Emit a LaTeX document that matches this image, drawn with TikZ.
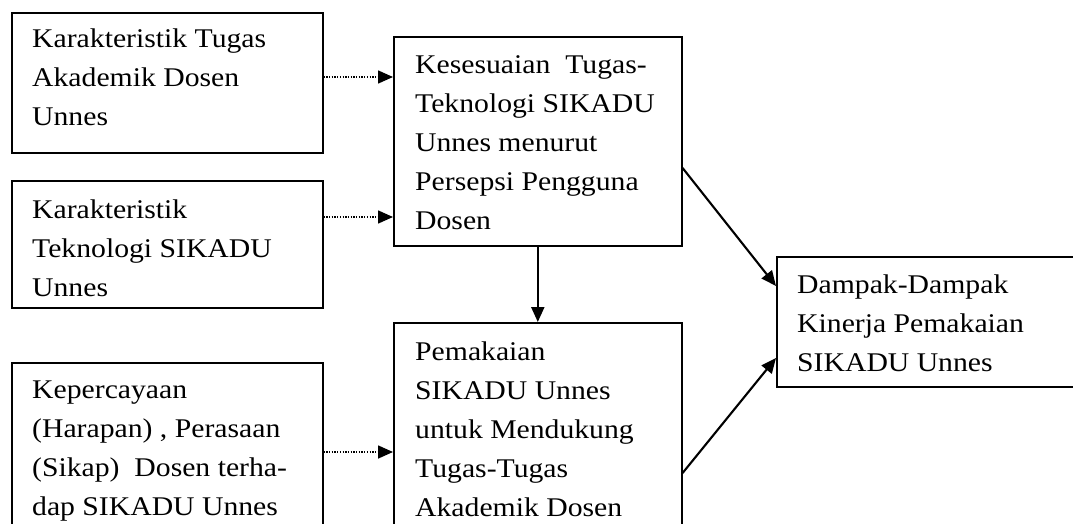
\documentclass[tikz,border=0pt]{standalone}
\usepackage{fontspec}
\setmainfont{Liberation Serif}[FakeStretch=1.1]
\usetikzlibrary{arrows.meta,calc}
\begin{document}
\begin{tikzpicture}[x=1pt,y=-1pt,
  box/.style={draw,line width=1.6pt,anchor=north west,inner sep=0pt},
  txt/.style={anchor=base west,inner sep=0pt,align=left,
    font=\fontsize{27pt}{39pt}\selectfont},
  solidarrow/.style={line width=2.1pt,-{Triangle[length=15pt,width=13pt]}},
  dotarrow/.style={line width=1.6pt,dash pattern=on 1.3pt off 1.4pt,
    -{Triangle[length=15pt,width=13pt]}}]
\useasboundingbox (0,0) rectangle (1073,524);
\clip (0,0) rectangle (1073,524);
% boxes
\node[box,minimum width=311pt,minimum height=140pt] (b1) at (11,12) {};
\node[box,minimum width=311pt,minimum height=127pt] (b2) at (11,180) {};
\node[box,minimum width=311pt,minimum height=200pt] (b3) at (11,362) {};
\node[box,minimum width=288pt,minimum height=209pt] (b4) at (393,36) {};
\node[box,minimum width=288pt,minimum height=240pt] (b5) at (393,322) {};
\node[box,minimum width=330pt,minimum height=130pt] (b6) at (776,256) {};
% texts (base anchor = baseline of last line)
\node[txt] (t1) at ($(b1.north west)+(21,36+2*39)$) {Karakteristik Tugas\\Akademik Dosen\\Unnes};
\node[txt] (t2) at ($(b2.north west)+(21,38+2*39)$) {Karakteristik\\Teknologi SIKADU\\Unnes};
\node[txt] (t3) at ($(b3.north west)+(21,36+3*39)$) {Kepercayaan\\(Harapan) , Perasaan\\(Sikap)\ \ Dosen terha-\\dap SIKADU Unnes};
\node[txt] (t4) at ($(b4.north west)+(22,37+4*39)$) {Kesesuaian\ \ Tugas-\\Teknologi SIKADU\\Unnes menurut\\Persepsi Pengguna\\Dosen};
\node[txt] (t5) at ($(b5.north west)+(22,38+4*39)$) {Pemakaian\\SIKADU Unnes\\untuk Mendukung\\Tugas-Tugas\\Akademik Dosen};
\node[txt] (t6) at ($(b6.north west)+(21,37+2*39)$) {Dampak-Dampak\\Kinerja Pemakaian\\SIKADU Unnes};
% connectors
\draw[dotarrow] (b1.east |- 0,77) -- (b4.west |- 0,77);
\draw[dotarrow] (b2.east |- 0,217) -- (b4.west |- 0,217);
\draw[dotarrow] (b3.east |- 0,452) -- (b5.west |- 0,452);
\draw[solidarrow] (b4.south) -- (b5.north);
\draw[solidarrow] (b4.east |- 0,168) -- (b6.west |- 0,286);
\draw[solidarrow] (b5.east |- 0,473) -- (b6.west |- 0,358);
\end{tikzpicture}
\end{document}
